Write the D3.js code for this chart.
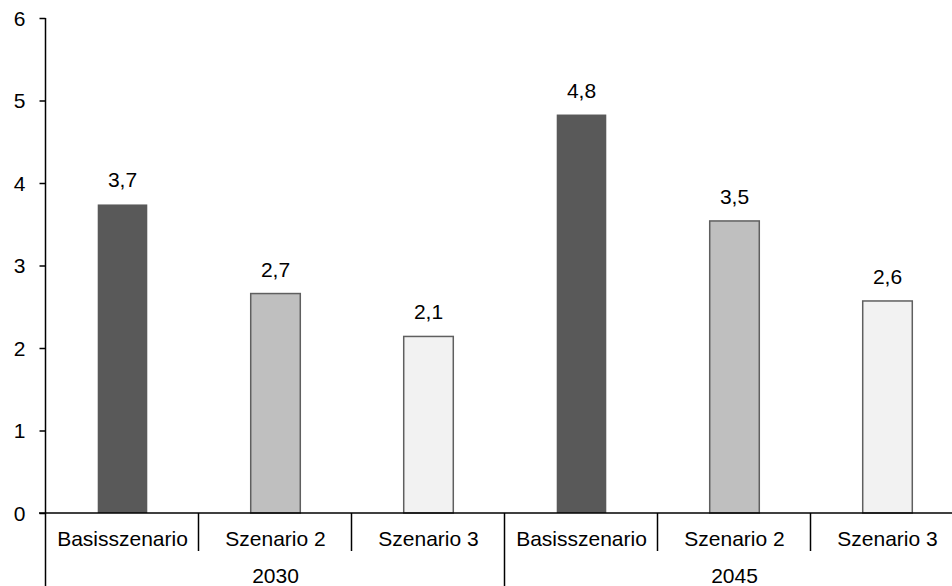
<!DOCTYPE html>
<html>
<head>
<meta charset="utf-8">
<script src="https://cdn.jsdelivr.net/npm/d3@7"></script>
<style>
  html, body { margin: 0; padding: 0; background: #fff; }
  svg { display: block; font-family: "Liberation Sans", Arial, sans-serif; }
</style>
</head>
<body>
<svg id="chart" width="952" height="586"></svg>
<script>
// Scenario results per target year
const years = ["2030", "2045"];
const scenarios = ["Basisszenario", "Szenario 2", "Szenario 3"];
const values2030 = [3.74, 2.66, 2.14];
const values2045 = [4.83, 3.54, 2.57];
const yTicks = [0, 1, 2, 3, 4, 5, 6];
const fills = ["#595959", "#bfbfbf", "#f2f2f2"];
const strokes = ["none", "#5f5f5f", "#5f5f5f"];

const FONT = 21;

const rows = [];
years.forEach((yr, gi) => {
  const vals = gi === 0 ? values2030 : values2045;
  scenarios.forEach((s, si) => rows.push({ key: yr + "|" + s, year: yr, scenario: s, si, value: vals[si] }));
});

const svg = d3.select("#chart");
const fmt = v => d3.format(".1f")(v).replace(".", ",");

const x = d3.scaleBand().domain(rows.map(d => d.key)).range([46, 964]).paddingInner(0).paddingOuter(0);
const y = d3.scaleLinear().domain([0, 6]).range([513, 18]);
const barW = x.bandwidth() * 0.324;

// Bars
svg.append("g").selectAll("rect").data(rows).join("rect")
  .attr("x", d => x(d.key) + (x.bandwidth() - barW) / 2)
  .attr("y", d => y(d.value))
  .attr("width", barW)
  .attr("height", d => y(0) - y(d.value))
  .attr("fill", d => fills[d.si])
  .attr("stroke", d => strokes[d.si])
  .attr("stroke-width", 1.5);

// Value labels
svg.append("g").selectAll("text").data(rows).join("text")
  .attr("x", d => x(d.key) + x.bandwidth() / 2)
  .attr("y", d => y(d.value) - 17)
  .attr("text-anchor", "middle")
  .attr("font-size", FONT)
  .attr("fill", "#000")
  .text(d => fmt(d.value));

// Y axis
const yAxis = d3.axisLeft(y).tickValues(yTicks).tickSize(6).tickPadding(14).tickFormat(d3.format("d"));
const gy = svg.append("g").attr("transform", "translate(45.5,0)").call(yAxis);
gy.select(".domain").remove();
gy.selectAll(".tick line").attr("stroke", "#000").attr("stroke-width", 1.5);
gy.selectAll(".tick text").attr("font-size", FONT).attr("font-family", "Liberation Sans, Arial, sans-serif").attr("fill", "#000").attr("dy", "0.35em");
svg.append("line").attr("x1", 45.5).attr("x2", 45.5).attr("y1", y(6)).attr("y2", 586)
  .attr("stroke", "#000").attr("stroke-width", 1.5);

// Baseline
svg.append("line").attr("x1", 39).attr("x2", 952).attr("y1", y(0)).attr("y2", y(0))
  .attr("stroke", "#000").attr("stroke-width", 1.5);

// Category separators: short between scenarios, long between years
const bounds = rows.slice(1).map(d => ({ x: x(d.key), group: d.si === 0 }));
svg.append("g").selectAll("line").data(bounds).join("line")
  .attr("x1", d => Math.round(d.x) - 0.5).attr("x2", d => Math.round(d.x) - 0.5)
  .attr("y1", y(0)).attr("y2", d => d.group ? 586 : 551)
  .attr("stroke", "#000").attr("stroke-width", 1.5);

// Scenario labels
svg.append("g").selectAll("text").data(rows).join("text")
  .attr("x", d => x(d.key) + x.bandwidth() / 2)
  .attr("y", 546)
  .attr("text-anchor", "middle")
  .attr("font-size", FONT)
  .text(d => d.scenario);

// Year labels
svg.append("g").selectAll("text").data(years).join("text")
  .attr("x", (yr) => {
    const ks = rows.filter(r => r.year === yr).map(r => x(r.key));
    return (ks[0] + ks[ks.length - 1] + x.bandwidth()) / 2;
  })
  .attr("y", 583)
  .attr("text-anchor", "middle")
  .attr("font-size", FONT)
  .text(d => d);
</script>
</body>
</html>
